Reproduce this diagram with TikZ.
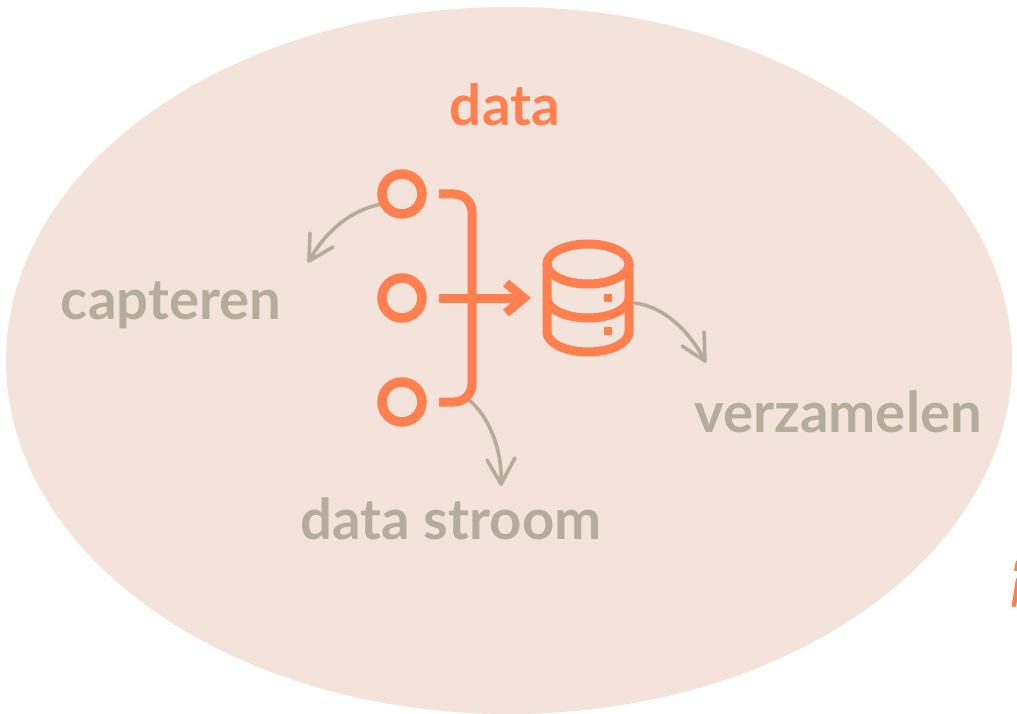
\documentclass[tikz,border=0pt]{standalone}
\usepackage{fontspec}
\setmainfont{Lato}[BoldFont=* Bold]
\definecolor{blob}{HTML}{F3E3DB}
\definecolor{org}{HTML}{FF7F4F}
\definecolor{gry}{HTML}{B5AD9C}
\tikzset{
 iconline/.style={draw=org,line width=9pt},
 dot/.style={circle,draw=org,line width=9.5pt,minimum size=40pt,inner sep=0pt,outer sep=0pt},
 sq/.style={fill=org,minimum size=8pt,inner sep=0pt,outer sep=0pt},
 thin arrow/.style={draw=gry,line width=3.6pt,line cap=round,line join=round},
 lab/.style={text=gry,font=\fontsize{56.3}{66}\selectfont\bfseries,inner sep=0pt,anchor=base},
}
\begin{document}
\begin{tikzpicture}[x=1pt,y=-1pt]
\useasboundingbox (0,0) rectangle (1017,714);
\fill[white] (0,0) rectangle (1017,714);
\fill[blob] (509,360.5) ellipse [x radius=503,y radius=353.5];
\draw[org,line width=4.5pt,line cap=round] (1014,605) -- (1018,580);
\draw[org,line width=4pt] (1016,571) -- (1018,561);
\node[text=org,font=\fontsize{56.5}{66}\selectfont\bfseries,inner sep=0pt,anchor=base] (title) at (505,125.5) {data};
\node[lab] (capt) at (171,319) {capteren};
\node[lab] (verz) at (838,432) {verzamelen};
\node[lab] (stroom) at (451,539) {data stroom};
% grey
\coordinate (a1) at (382,204);
\coordinate (a1t) at (309,261);
\draw[thin arrow] (a1) .. controls (350,210) and (325,232) .. (a1t);
\draw[thin arrow] (310,233) -- (a1t) -- (333,247);
\coordinate (a2) at (635,303);
\coordinate (a2t) at (705,361);
\draw[thin arrow] (a2) .. controls (665,307) and (690,332) .. (a2t);
\draw[thin arrow] (682,346) -- (a2t) -- (704,332);
\coordinate (a3) at (469,400);
\coordinate (a3t) at (501,484);
\draw[thin arrow] (a3) .. controls (488,415) and (503,450) .. (a3t);
\draw[thin arrow] (487,460) -- (a3t) -- (515,458);
% icon
\node[dot] (c1) at (402,194) {};
\node[dot] (c2) at (402,298) {};
\node[dot] (c3) at (402,402) {};
\coordinate (b1) at (439,194);
\coordinate (b3) at (439,402);
\coordinate (m1) at (439,298);
\coordinate (tip) at (524,298);
\draw[iconline,rounded corners=18pt] (b1) -- (472,194) -- (472,402) -- (b3);
\draw[iconline] (m1) -- (tip);
\draw[iconline,miter limit=10] (506,283) -- (tip) -- (506,313);
% database
\coordinate (dbc) at (588,264);
\draw[iconline] (dbc) ellipse [x radius=41,y radius=20];
\draw[iconline] (547,264) -- (547,332) .. controls (547,343) and (565.4,352) .. (588,352) .. controls (610.6,352) and (629,343) .. (629,332) -- (629,264);
\draw[iconline] (547,298) .. controls (547,309) and (565.4,318) .. (588,318) .. controls (610.6,318) and (629,309) .. (629,298);
\node[sq] (s1) at (608,298) {};
\node[sq] (s2) at (608,331) {};
\end{tikzpicture}
\end{document}
